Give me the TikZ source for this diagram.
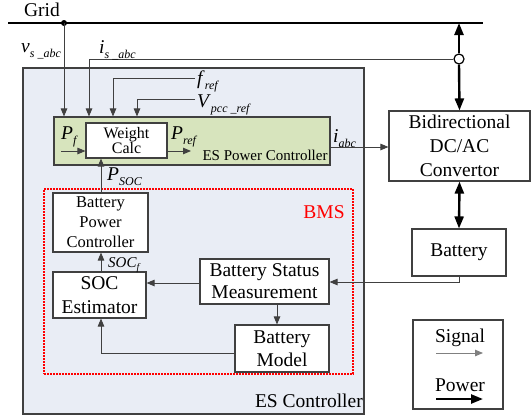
\documentclass[tikz,border=0pt]{standalone}
\usepackage{fontspec}
\setmainfont{Liberation Serif}
\usetikzlibrary{arrows.meta,calc}
\definecolor{escfill}{HTML}{E9EDF5}
\definecolor{pcfill}{HTML}{D7E4BD}
\definecolor{edgec}{HTML}{404040}
\definecolor{sigc}{HTML}{404040}
\newcommand\fbig{\fontsize{19.5}{23}\selectfont}
\newcommand\fmid{\fontsize{16.5}{20}\selectfont}
\newcommand\fwc{\fontsize{16}{15.5}\selectfont}
\newcommand\fsub{\fontsize{12}{12}\selectfont}
\newcommand\symlab[2]{\textit{#1}\raisebox{-0.3em}{\fsub\textit{#2}}}
\begin{document}
\begin{tikzpicture}[x=1pt,y=-1pt,
  box/.style={draw=edgec, line width=1.1pt, fill=white, inner sep=0pt, align=center, font=\fbig},
  sigline/.style={draw=sigc, line width=0.9pt},
  sigarrow/.style={sigline, -{Triangle[length=8pt,width=6.5pt]}},
  pwrtip/.style={line width=2.4pt, -{Triangle[length=12pt,width=9pt]}},
  pwrboth/.style={line width=2.4pt, {Triangle[length=12pt,width=9pt]}-{Triangle[length=12pt,width=9pt]}},
  lab/.style={inner sep=0pt, font=\fbig}]
\useasboundingbox (0,0) rectangle (532,418);
% ES controller
\node[box, fill=escfill, minimum width=341pt, minimum height=346pt] (esc) at (193.5,241) {};
\node[lab, anchor=base east] (esclab) at (363,407) {ES Controller};
% ES power controller
\node[box, fill=pcfill, minimum width=276pt, minimum height=48pt] (espc) at (192,141) {};
\node[lab, font=\fontsize{15}{15}\selectfont] (espclab) at (265,155) {ES Power Controller};
\node[box, font=\fwc, minimum width=81pt, minimum height=35pt] (wc) at (126.5,140.5) {Weight\\Calc};
% BMS
\node[draw=red, line width=1.3pt, dash pattern=on 1.6pt off 1.4pt, minimum width=309pt, minimum height=185pt, inner sep=0pt] (bms) at (198.5,281.5) {};
\node[lab, text=red] (bmslab) at (324,212) {BMS};
\node[box, font=\fmid, minimum width=95pt, minimum height=59pt] (bpc) at (100.5,222.5) {Battery\\Power\\Controller};
\node[box, minimum width=93pt, minimum height=46pt, font=\fontsize{19.5}{24}\selectfont] (soc) at (99.5,295) {SOC\\Estimator};
\node[box, minimum width=129pt, minimum height=45pt, font=\fontsize{19.5}{22}\selectfont] (bsm) at (264.5,281.5) {Battery Status\\Measurement};
\node[box, minimum width=94pt, minimum height=47pt] (bm) at (282,348.5) {Battery\\Model};
% right side
\node[box, minimum width=141pt, minimum height=70pt, font=\fontsize{19.5}{24}\selectfont] (conv) at (459.5,146) {Bidirectional\\DC/AC\\Convertor};
\node[box, minimum width=94pt, minimum height=47pt] (bat) at (459,252.5) {Battery};
\node[box, minimum width=90pt, minimum height=89pt] (leg) at (458,364.5) {};
\node[lab] (sigl) at (460,338) {Signal};
\node[lab] (pwrl) at (460,385) {Power};
\coordinate (sa) at (436,353); \coordinate (sb) at (483,353);
\coordinate (pa) at (436,399); \coordinate (pb) at (483,399);
\draw[sigarrow, draw=gray] (sa) -- (sb);
\draw[pwrtip] (pa) -- (pb);
% grid
\coordinate (gl) at (8,23); \coordinate (gr) at (483,23);
\draw[line width=2.4pt] (gl) -- (gr);
\node[lab] (gridlab) at (42,10) {Grid};
\fill (64,23) circle (3pt);
\coordinate (vtop) at (64,23);
\draw[sigarrow] (vtop) -- (vtop |- espc.north);
\node[lab, anchor=base west] (vlab) at (21,52) {\symlab{v}{s \_abc}};
% junction
\node[circle, draw=black, line width=1.2pt, fill=white, minimum size=10pt, inner sep=0pt] (jn) at (459,59) {};
\coordinate (gp) at (459,23);
\draw[pwrtip] (jn.north) -- (gp);
\draw[pwrtip] (jn.south) -- (conv.north);
\coordinate (ic) at (89,59);
\draw[sigarrow] (jn.west) -- (ic) -- (ic |- espc.north);
\node[lab, anchor=base west] (ilab) at (99,53) {\symlab{i}{s \_abc}};
% f_ref, V_pcc_ref
\coordinate (fa) at (195,78); \coordinate (fb) at (113,78);
\draw[sigarrow] (fa) -- (fb) -- (fb |- espc.north);
\node[lab, anchor=base west] (flab) at (197,84) {\symlab{f}{ref}};
\coordinate (va) at (195,99); \coordinate (vb) at (137,99);
\draw[sigarrow] (va) -- (vb) -- (vb |- espc.north);
\node[lab, anchor=base west] (Vlab) at (197,107) {\symlab{V}{pcc \_ref}};
% P_f, P_ref
\coordinate (pfa) at (61,151);
\draw[sigarrow] (pfa) -- (pfa -| wc.west);
\node[lab, anchor=base west] (pflab) at (61,139) {\symlab{P}{f}};
\coordinate (pra) at (191,151);
\draw[sigarrow] (pra -| wc.east) -- (pra);
\node[lab, anchor=base west] (prlab) at (171,139) {\symlab{P}{ref}};
% i_abc
\coordinate (ia) at (330,147);
\draw[sigarrow] (espc.east |- ia) -- (conv.west |- ia);
\node[lab, anchor=base west] (iabclab) at (333,142) {\symlab{i}{abc}};
% P_SOC
\coordinate (psx) at (101,193);
\draw[sigarrow] (psx) -- (psx |- wc.south);
\node[lab, anchor=base west] (pslab) at (107,180) {\symlab{P}{SOC}};
% SOC_f
\coordinate (sfx) at (101,272);
\draw[sigarrow] (sfx) -- (sfx |- bpc.south);
\node[lab, anchor=base west, font=\fontsize{15}{15}\selectfont] (sflab) at (108,267) {\textit{SOC}\raisebox{-0.25em}{\fontsize{10}{10}\selectfont\textit{f}}};
% power link
\draw[pwrboth] (conv.south) -- (bat.north);
% battery -> BSM
\coordinate (bb) at (459,282);
\draw[sigarrow] (bat.south) -- (bb) -- (bb -| bsm.east);
% BSM -> SOC
\coordinate (bs) at (200,283);
\draw[sigarrow] (bs) -- (bs -| soc.east);
% BSM -> BM
\coordinate (bmx) at (277,304);
\draw[sigarrow] (bmx) -- (bmx |- bm.north);
% BM -> SOC
\coordinate (bml) at (235,353); \coordinate (bmc) at (101,353);
\draw[sigarrow] (bml) -- (bmc) -- (bmc |- soc.south);
\end{tikzpicture}
\end{document}
